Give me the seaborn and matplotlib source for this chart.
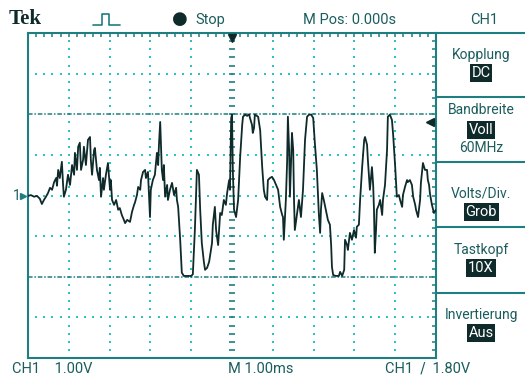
import numpy as np
import matplotlib
matplotlib.use('Agg')
import matplotlib.pyplot as plt
import seaborn as sns
from matplotlib.lines import Line2D

# CH1 trace: time in ms (1 ms/div), volts (1 V/div)
time_ms = [
    -5.00, -4.93, -4.85, -4.78, -4.71, -4.66, -4.61, -4.56, -4.51, -4.46,
    -4.41, -4.36, -4.31, -4.29, -4.26, -4.22, -4.17, -4.14, -4.12, -4.07,
    -4.02, -3.97, -3.92, -3.87, -3.85, -3.80, -3.77, -3.73, -3.70, -3.65,
    -3.63, -3.58, -3.53, -3.48, -3.46, -3.43, -3.38, -3.36, -3.31, -3.26,
    -3.24, -3.21, -3.16, -3.14, -3.09, -3.04, -2.99, -2.97, -2.94, -2.89,
    -2.84, -2.79, -2.75, -2.70, -2.65, -2.62, -2.57, -2.50, -2.45, -2.40,
    -2.38, -2.33, -2.30, -2.25, -2.23, -2.18, -2.13, -2.11, -2.06, -2.01,
    -1.99, -1.94, -1.89, -1.84, -1.81, -1.79, -1.76, -1.74, -1.72, -1.69,
    -1.67, -1.64, -1.59, -1.57, -1.52, -1.47, -1.42, -1.37, -1.35, -1.32,
    -1.27, -1.23, -1.18, -1.08, -1.00, -0.96, -0.91, -0.86, -0.81, -0.78,
    -0.74, -0.69, -0.66, -0.61, -0.56, -0.51, -0.49, -0.47, -0.42, -0.39,
    -0.34, -0.29, -0.25, -0.20, -0.15, -0.12, -0.07, -0.05, -0.02,
    0.00, 0.02, 0.05, 0.10, 0.15, 0.20, 0.25, 0.27, 0.32, 0.37,
    0.42, 0.44, 0.49, 0.51, 0.54, 0.56, 0.61, 0.64, 0.69, 0.74,
    0.78, 0.81, 0.86, 0.88, 0.93, 0.98, 1.03, 1.08, 1.13, 1.18,
    1.23, 1.25, 1.27, 1.32, 1.35, 1.37, 1.40, 1.42, 1.45, 1.47,
    1.50, 1.52, 1.54, 1.59, 1.64, 1.69, 1.74, 1.79, 1.84, 1.89,
    1.94, 1.99, 2.03, 2.08, 2.11, 2.13, 2.16, 2.18, 2.21, 2.25,
    2.30, 2.35, 2.40, 2.43, 2.45, 2.48,
    2.55, 2.62, 2.65, 2.70, 2.75, 2.77, 2.82, 2.84, 2.89, 2.94,
    2.99, 3.04, 3.06, 3.11, 3.14, 3.19, 3.24, 3.26, 3.31, 3.33,
    3.38, 3.43, 3.46, 3.48, 3.50, 3.53, 3.55, 3.60, 3.63, 3.68,
    3.70, 3.75, 3.80, 3.82, 3.87, 3.92, 3.95, 4.00, 4.04, 4.09,
    4.12, 4.17, 4.19, 4.24, 4.29, 4.31, 4.36, 4.41, 4.44, 4.49,
    4.51, 4.56, 4.61, 4.63, 4.68, 4.73, 4.78, 4.80, 4.83, 4.85,
    4.90, 4.95, 5.00,
]
ch1_volts = [
    -0.01, 0.01, -0.03, -0.01, -0.08, -0.21, -0.11, -0.03, 0.06, 0.19,
    0.14, 0.33, 0.43, 0.24, 0.63, 0.43, 0.83, 0.26, -0.03, 0.14,
    0.51, 0.26, 0.75, 0.51, 1.05, 0.63, 1.20, 1.30, 0.63, 0.88,
    1.20, 0.75, 1.37, 1.44, 0.88, 0.51, 1.12, 1.17, 0.63, 0.38,
    0.68, -0.03, 0.43, 0.14, 0.51, 0.80, 0.14, 0.38, -0.11, -0.23,
    -0.11, -0.35, -0.31, -0.48, -0.60, -0.68, -0.60, -0.65, -0.40, -0.23,
    -0.18, 0.01, 0.21, 0.14, 0.38, 0.58, 0.63, 0.43, 0.58, -0.53,
    0.14, 0.38, 0.51, 1.05, 0.75, 1.25, 1.81, 1.25, 0.63, 0.38,
    0.75, -0.03, 0.26, -0.11, 0.14, 0.31, 0.01, 0.19, -0.11, -0.28,
    -1.09, -1.90, -1.98, -1.98, -1.98, -1.94, -0.85, 0.63, 0.51, -0.35,
    -1.17, -1.63, -1.83, -1.78, -1.63, -1.29, -1.17, -0.72, -0.28, -0.85,
    -1.22, -0.43, -0.48, -0.11, -0.23, 0.06, 0.38, 0.14, 1.91,
    1.99, 0.63, -0.35, -0.53, -0.11, 0.95, 1.74, 1.94, 1.99, 1.96,
    2.00, 1.91, 1.74, 1.54, 1.66, 1.99, 1.96, 1.94, 1.61, 0.70,
    0.14, -0.03, -0.11, 0.38, 0.43, 0.46, 0.38, 0.26, 0.14, -0.28,
    -0.48, -0.53, -1.09, -0.11, 0.80, 1.94, 1.12, -0.03, 0.88, 1.54,
    1.12, -0.11, -0.85, -0.48, -0.11, -0.53, 0.14, 1.37, 1.94, 1.99,
    1.99, 1.91, 1.30, 0.63, -0.03, -0.48, -0.92, -0.35, 0.06, -0.11,
    -0.35, -0.60, -0.72, -1.22, -1.76, -1.96,
    -1.98, -1.98, -1.88, -1.98, -1.83, -1.09, -1.22, -1.34, -0.92, -1.09,
    -0.85, -1.04, -0.77, -0.72, -0.11, 0.70, 1.37, 1.44, 1.25, 0.88,
    0.14, 0.70, 0.26, -0.35, -1.41, -0.85, -0.35, -0.23, -0.11, -0.48,
    -0.11, 0.26, 1.12, 1.94, 1.99, 1.86, 1.49, 0.70, -0.03, 0.01,
    -0.11, -0.28, 0.01, 0.21, 0.38, 0.33, 0.38, 0.26, -0.03, -0.23,
    -0.35, -0.53, -0.11, 0.31, 0.80, 0.63, 0.63, 0.38, 0.26, 0.06,
    -0.23, -0.43, -0.35,
]

cursor_levels = [2.0, -2.0]
trigger_level = 1.80

menu_titles = ['Kopplung', 'Bandbreite', 'Volts/Div.', 'Tastkopf', 'Invertierung']
menu_values = ['DC', 'Voll', 'Grob', '10X', 'Aus']
menu_title_y = [55, 110, 193, 250, 315]
menu_value_y = [73, 130, 212, 268, 333]
menu_lines_y = [97, 162, 227, 293]

W, H = 525, 378
teal = '#1f7f80'
dots = '#2fc2c2'
text_c = '#1b5d5e'
trace_c = '#0f2a2a'

sns.set_style('white')
plt.rcParams['font.family'] = ['Roboto', 'DejaVu Sans']

fig = plt.figure(figsize=(W / 100, H / 100), dpi=100)
fig.patch.set_facecolor('white')


def fx(x):
    return x / W


def fy(y):
    return 1 - y / H


ax = fig.add_axes([fx(28), fy(358), 408 / W, 325 / H])
ax.set_xlim(-5, 5)
ax.set_ylim(-4, 4)

# graticule: dotted division lines, ticked centre cross, ticked frame
minor = np.arange(-5, 5.01, 0.2)
minor_v = np.arange(-4, 4.01, 0.2)
for t in range(-4, 5):
    if t != 0:
        ax.scatter(np.full_like(minor_v, t), minor_v, s=2.5, marker='s',
                   color=dots, linewidths=0, zorder=1)
for v in (-3, -1, 1, 3):
    ax.scatter(minor, np.full_like(minor, v), s=2.5, marker='s',
               color=dots, linewidths=0, zorder=1)
ax.plot(np.zeros_like(minor_v), minor_v, ls='none', marker='_', ms=5,
        mew=1.2, color=teal, zorder=1)
ax.scatter(minor, np.zeros_like(minor), s=4, marker='s', color=dots,
           linewidths=0, zorder=1)

for lvl in cursor_levels:
    ax.axhline(lvl, color=teal, lw=1.1, ls=(0, (3, 1.2, 1, 1.2)), zorder=1)

sns.lineplot(x=time_ms, y=ch1_volts, ax=ax, sort=False, estimator=None,
             color=trace_c, lw=1.3, zorder=3)

ax.set_xticks(np.arange(-5, 5.01, 1))
ax.set_yticks(np.arange(-4, 4.01, 1))
ax.set_xticks(minor, minor=True)
ax.set_yticks(minor_v, minor=True)
ax.tick_params(which='both', direction='in', length=3, width=1.1,
               color=teal, top=True, right=True, labelbottom=False,
               labelleft=False)
for s in ax.spines.values():
    s.set_color(teal)
    s.set_linewidth(1.5)
ax.set_xlabel('')
ax.set_ylabel('')

# trigger position, trigger level and ground markers
ax.plot([0], [0.985], marker='v', ms=6, color=trace_c,
        transform=ax.get_xaxis_transform(), clip_on=False, zorder=4)
ax.plot([0.985], [trigger_level], marker='<', ms=6, color=trace_c,
        transform=ax.get_yaxis_transform(), clip_on=False, zorder=4)
ax.plot([-0.012], [0], marker='>', ms=4, color=teal,
        transform=ax.get_yaxis_transform(), clip_on=False, zorder=4)
fig.text(fx(17), fy(196), '1', color=text_c, fontsize=10, ha='center',
         va='center')

# side menu frame
fig.add_artist(Line2D([fx(436), fx(525)], [fy(33), fy(33)], color=teal,
                      lw=1.5))
for y in menu_lines_y:
    fig.add_artist(Line2D([fx(436), fx(525)], [fy(y), fy(y)], color=teal,
                          lw=1.5))

for title, val, ty, vy in zip(menu_titles, menu_values, menu_title_y,
                              menu_value_y):
    fig.text(fx(481), fy(ty), title, color=text_c, fontsize=10,
             ha='center', va='center')
    fig.text(fx(481), fy(vy), val, color='white', fontsize=10.5,
             ha='center', va='center',
             bbox=dict(boxstyle='square,pad=0.12', fc=trace_c, ec='none'))
fig.text(fx(481), fy(148), '60MHz', color=text_c, fontsize=10,
         ha='center', va='center')

# header
fig.text(fx(9), fy(19), 'Tek', color=trace_c, fontsize=15,
         fontweight='bold', family='Liberation Serif', ha='left',
         va='center')
px = [93, 100, 101, 102, 102, 109, 109, 110, 111, 120]
py = [25, 25, 25, 25, 14, 14, 25, 25, 25, 25]
fig.add_artist(Line2D([fx(x) for x in px], [fy(y) for y in py], color=teal,
                      lw=1.2))
fig.text(fx(180), fy(19), '\u25cf', color=trace_c, fontsize=13,
         ha='center', va='center', family='DejaVu Sans')
fig.text(fx(195), fy(20), 'Stop', color=text_c, fontsize=10.5, ha='left',
         va='center')
fig.text(fx(303), fy(20), 'M Pos: 0.000s', color=text_c, fontsize=10.5,
         ha='left', va='center')
fig.text(fx(470), fy(20), 'CH1', color=text_c, fontsize=10.5, ha='left',
         va='center')

# footer
fig.text(fx(12), fy(369), 'CH1    1.00V', color=text_c, fontsize=10.5,
         ha='left', va='center')
fig.text(fx(228), fy(369), 'M 1.00ms', color=text_c, fontsize=10.5,
         ha='left', va='center')
fig.text(fx(385), fy(369), 'CH1  \u2215  1.80V', color=text_c,
         fontsize=10.5, ha='left', va='center')

fig.savefig('out.png', dpi=100, facecolor='white')
